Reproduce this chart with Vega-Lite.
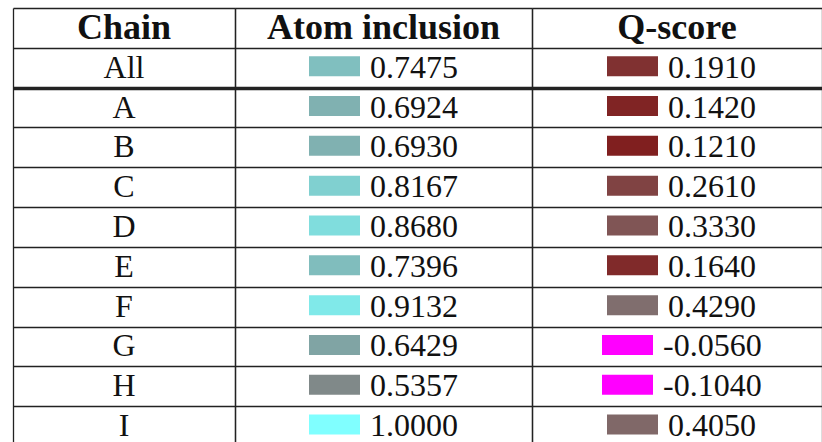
{
  "$schema": "https://vega.github.io/schema/vega-lite/v6.json",
  "padding": {"left": 13, "top": 8, "right": 0, "bottom": 0},
  "background": "white",
  "resolve": {"scale": {"color": "independent"}},
  "config": {
    "view": {"stroke": null},
    "concat": {"spacing": 0},
    "text": {"font": "Liberation Serif", "fontSize": 32, "color": "#111"}
  },
  "datasets": {
    "rows": [
      {"row": "All", "atom": 0.7475, "q": 0.1910},
      {"row": "A", "atom": 0.6924, "q": 0.1420},
      {"row": "B", "atom": 0.6930, "q": 0.1210},
      {"row": "C", "atom": 0.8167, "q": 0.2610},
      {"row": "D", "atom": 0.8680, "q": 0.3330},
      {"row": "E", "atom": 0.7396, "q": 0.1640},
      {"row": "F", "atom": 0.9132, "q": 0.4290},
      {"row": "G", "atom": 0.6429, "q": -0.0560},
      {"row": "H", "atom": 0.5357, "q": -0.1040},
      {"row": "I", "atom": 1.0000, "q": 0.4050}
    ]
  },
  "hconcat": [
    {
      "width": 222,
      "height": 434,
      "encoding": {
        "x": {"datum": "c", "type": "nominal", "scale": {"type": "band", "domain": ["c"], "paddingInner": 0, "paddingOuter": 0},
              "axis": {"grid": true, "tickBand": "extent", "labels": false, "ticks": false, "domain": false, "title": null, "gridColor": "#222", "gridWidth": 1.3, "orient": "top"}},
        "y": {"field": "row", "type": "nominal", "scale": {"type": "band", "domain": ["header", "All", "A", "B", "C", "D", "E", "F", "G", "H", "I"], "range": [0, 438], "paddingInner": 0, "paddingOuter": 0},
              "axis": {"grid": true, "tickBand": "extent", "labels": false, "ticks": false, "domain": false, "title": null, "gridColor": "#222", "gridWidth": {"condition": {"test": "datum.value === 'All'", "value": 3.5}, "value": 1.3}}}
      },
      "layer": [
        {
          "data": {"values": [{"row": "header", "label": "Chain"}]},
          "mark": {"type": "text", "fontWeight": "bold", "fontSize": 36},
          "encoding": {"text": {"field": "label"}}
        },
        {
          "data": {"name": "rows"},
          "mark": {"type": "text"},
          "encoding": {"text": {"field": "row"}}
        }
      ]
    },
    {
      "width": 297,
      "height": 434,
      "encoding": {
        "x": {"datum": "c", "type": "nominal", "scale": {"type": "band", "domain": ["c"], "paddingInner": 0, "paddingOuter": 0},
              "axis": {"grid": true, "tickBand": "extent", "labels": false, "ticks": false, "domain": false, "title": null, "gridColor": "#222", "gridWidth": 1.3, "orient": "top"}},
        "y": {"field": "row", "type": "nominal", "scale": {"type": "band", "domain": ["header", "All", "A", "B", "C", "D", "E", "F", "G", "H", "I"], "range": [0, 438], "paddingInner": 0, "paddingOuter": 0},
              "axis": {"grid": true, "tickBand": "extent", "labels": false, "ticks": false, "domain": false, "title": null, "gridColor": "#222", "gridWidth": {"condition": {"test": "datum.value === 'All'", "value": 3.5}, "value": 1.3}}}
      },
      "layer": [
        {
          "data": {"values": [{"row": "header", "label": "Atom inclusion"}]},
          "mark": {"type": "text", "fontWeight": "bold", "fontSize": 36},
          "encoding": {"text": {"field": "label"}}
        },
        {
          "data": {"name": "rows"},
          "mark": {"type": "point", "shape": "M-1,-0.392H1V0.392H-1Z", "size": 2601, "filled": true, "opacity": 1, "strokeWidth": 0, "xOffset": -49, "yOffset": -1.5},
          "encoding": {
            "color": {"field": "atom", "type": "quantitative", "scale": {"domain": [0.5, 1], "range": ["#808080", "#80ffff"], "interpolate": "rgb"}, "legend": null}
          }
        },
        {
          "data": {"name": "rows"},
          "mark": {"type": "text", "align": "left", "dx": -13.5},
          "encoding": {"text": {"field": "atom", "format": ".4f"}}
        }
      ]
    },
    {
      "width": 290,
      "height": 434,
      "encoding": {
        "x": {"datum": "c", "type": "nominal", "scale": {"type": "band", "domain": ["c"], "paddingInner": 0, "paddingOuter": 0},
              "axis": {"grid": true, "tickBand": "extent", "labels": false, "ticks": false, "domain": false, "title": null, "gridColor": "#222", "gridWidth": 1.3, "orient": "top"}},
        "y": {"field": "row", "type": "nominal", "scale": {"type": "band", "domain": ["header", "All", "A", "B", "C", "D", "E", "F", "G", "H", "I"], "range": [0, 438], "paddingInner": 0, "paddingOuter": 0},
              "axis": {"grid": true, "tickBand": "extent", "labels": false, "ticks": false, "domain": false, "title": null, "gridColor": "#222", "gridWidth": {"condition": {"test": "datum.value === 'All'", "value": 3.5}, "value": 1.3}}}
      },
      "layer": [
        {
          "data": {"values": [{"row": "header", "label": "Q-score"}]},
          "mark": {"type": "text", "fontWeight": "bold", "fontSize": 36},
          "encoding": {"text": {"field": "label"}}
        },
        {
          "data": {"name": "rows"},
          "transform": [{"filter": "datum.q >= 0"}],
          "mark": {"type": "point", "shape": "M-1,-0.392H1V0.392H-1Z", "size": 2601, "filled": true, "opacity": 1, "strokeWidth": 0, "xOffset": -44.5, "yOffset": -1.5},
          "encoding": {
            "color": {"field": "q", "type": "quantitative", "scale": {"domain": [-1, -0.0001, 0, 0.5], "range": ["#ff00ff", "#ff00ff", "#800000", "#808080"], "interpolate": "rgb"}, "legend": null}
          }
        },
        {
          "data": {"name": "rows"},
          "transform": [{"filter": "datum.q < 0"}],
          "mark": {"type": "point", "shape": "M-1,-0.392H1V0.392H-1Z", "size": 2601, "filled": true, "opacity": 1, "strokeWidth": 0, "xOffset": -49.5, "yOffset": -1.5},
          "encoding": {
            "color": {"field": "q", "type": "quantitative", "scale": {"domain": [-1, -0.0001, 0, 0.5], "range": ["#ff00ff", "#ff00ff", "#800000", "#808080"], "interpolate": "rgb"}, "legend": null}
          }
        },
        {
          "data": {"name": "rows"},
          "transform": [{"filter": "datum.q >= 0"}],
          "mark": {"type": "text", "align": "left", "dx": -9},
          "encoding": {"text": {"field": "q", "format": ".4f"}}
        },
        {
          "data": {"name": "rows"},
          "transform": [{"filter": "datum.q < 0"}, {"calculate": "replace(format(datum.q, '.4f'), '\u2212', '-')", "as": "qlabel"}],
          "mark": {"type": "text", "align": "left", "dx": -14},
          "encoding": {"text": {"field": "qlabel"}}
        }
      ]
    }
  ]
}
